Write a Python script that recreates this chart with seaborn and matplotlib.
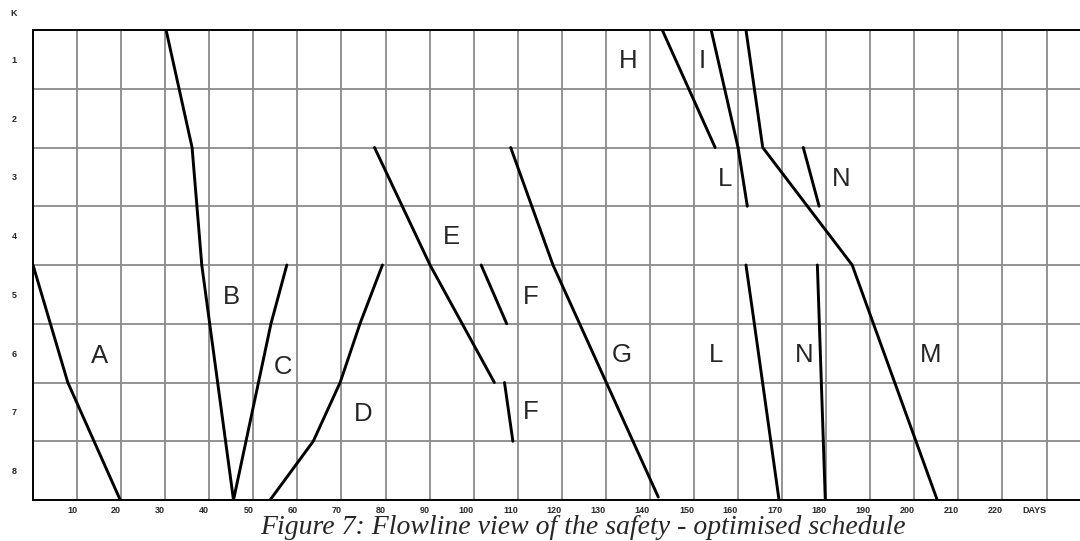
import pandas as pd
import matplotlib
matplotlib.use("Agg")
import matplotlib.pyplot as plt
import matplotlib.transforms as mtransforms
import seaborn as sns

# flowline segments: day values and K level (0 = top of unit 1, 8 = bottom of unit 8)
a_days = [0.0, 7.9, 19.8]
a_levels = [4, 6, 8]
b_days = [30.2, 36.1, 38.3, 45.5]
b_levels = [0, 2, 4, 8]
c_days = [45.5, 54.0, 57.6]
c_levels = [8, 5, 4]
d_days = [53.8, 63.6, 69.7, 74.2, 79.3]
d_levels = [8, 7, 6, 5, 4]
e_days = [77.5, 90.1, 104.7]
e_levels = [2, 4, 6]
f1_days = [101.7, 107.5]
f1_levels = [4, 5]
f2_days = [107.0, 108.9]
f2_levels = [6, 7]
g_days = [108.4, 118.0, 141.9]
g_levels = [2, 4, 7.95]
h_days = [142.8, 154.8]
h_levels = [0, 2]
i_days = [153.9, 160.0]
i_levels = [0, 2]
l1_days = [160.0, 162.1]
l1_levels = [2, 3]
l2_days = [161.8, 163.7, 169.3]
l2_levels = [4, 5, 8]
n1_days = [174.8, 178.4]
n1_levels = [2, 3]
n2_days = [178.0, 179.8]
n2_levels = [4, 8]
m_days = [161.8, 165.6, 185.9, 205.2]
m_levels = [0, 2, 4, 8]

segments = {
    "A": (a_days, a_levels), "B": (b_days, b_levels), "C": (c_days, c_levels),
    "D": (d_days, d_levels), "E": (e_days, e_levels), "F1": (f1_days, f1_levels),
    "F2": (f2_days, f2_levels), "G": (g_days, g_levels), "H": (h_days, h_levels),
    "I": (i_days, i_levels), "L1": (l1_days, l1_levels), "L2": (l2_days, l2_levels),
    "N1": (n1_days, n1_levels), "N2": (n2_days, n2_levels), "M": (m_days, m_levels),
}

# activity letters and where they sit
label_text = ["A", "B", "C", "D", "E", "F", "F", "G", "H", "I", "L", "L", "N", "N", "M"]
label_days = [15.0, 45.0, 56.7, 75.0, 95.0, 113.0, 113.0, 133.5, 135.1, 151.8, 157.1, 155.0, 183.3, 175.0, 203.6]
label_levels = [5.55, 4.54, 5.73, 6.54, 3.53, 4.54, 6.51, 5.53, 0.52, 0.52, 2.54, 5.53, 2.54, 5.53, 5.53]

k_units = ["1", "2", "3", "4", "5", "6", "7", "8"]
day_ticks = [10, 20, 30, 40, 50, 60, 70, 80, 90, 100, 110, 120, 130, 140, 150,
             160, 170, 180, 190, 200, 210, 220, 230]
day_labels = [str(d) for d in day_ticks[:-1]] + ["DAYS"]

caption = "Figure 7: Flowline view of the safety - optimised schedule"

rows = []
for name, (days, levels) in segments.items():
    for d, l in zip(days, levels):
        rows.append({"seg": name, "day": d, "level": l})
df = pd.DataFrame(rows)

sns.set_style("white")
plt.rcParams["font.family"] = ["Liberation Sans", "DejaVu Sans"]

fig = plt.figure(figsize=(10.8, 5.41), dpi=100)
ax = fig.add_axes([33 / 1080, 1 - 500 / 541, 1 - 33 / 1080, 470 / 541])

# grid
for d in day_ticks:
    ax.axvline(d, color="#8a8a8a", lw=1.3, zorder=1)
for k in range(1, 8):
    ax.axhline(k, color="#8a8a8a", lw=1.3, zorder=1)

sns.lineplot(data=df, x="day", y="level", units="seg", estimator=None, sort=False,
             color="black", lw=2.1, ax=ax, zorder=3, legend=False)

for txt, d, l in zip(label_text, label_days, label_levels):
    ax.text(d, l, txt, fontsize=18.5, ha="center", va="center", zorder=4)

ax.set_xlim(0, 237.6)
ax.set_ylim(8, 0)
ax.set_xlabel("")
ax.set_ylabel("")

ax.set_xticks(day_ticks)
ax.set_xticklabels(day_labels, fontsize=6.5, fontweight="bold", ha="right")
shift = mtransforms.ScaledTranslation(-2 / 100, 0, fig.dpi_scale_trans)
for lab in ax.get_xticklabels():
    lab.set_transform(lab.get_transform() + shift)

ax.set_yticks([k + 0.5 for k in range(8)])
ax.set_yticklabels(k_units, fontsize=6.5, fontweight="bold", ha="center")
ax.tick_params(axis="x", length=0, pad=4)
ax.tick_params(axis="y", length=0, pad=13.5)

for side in ["left", "top", "bottom"]:
    ax.spines[side].set_color("black")
    ax.spines[side].set_linewidth(1.4)
ax.spines["right"].set_visible(False)

fig.text(14 / 1080, 1 - 14 / 541, "K", fontsize=6.5, fontweight="bold", ha="center", va="center")
fig.text(583 / 1080, 7.5 / 541, caption, fontsize=20, style="italic",
         family=["Liberation Serif", "DejaVu Serif"], ha="center", va="baseline")

fig.savefig("out.png", dpi=100)
